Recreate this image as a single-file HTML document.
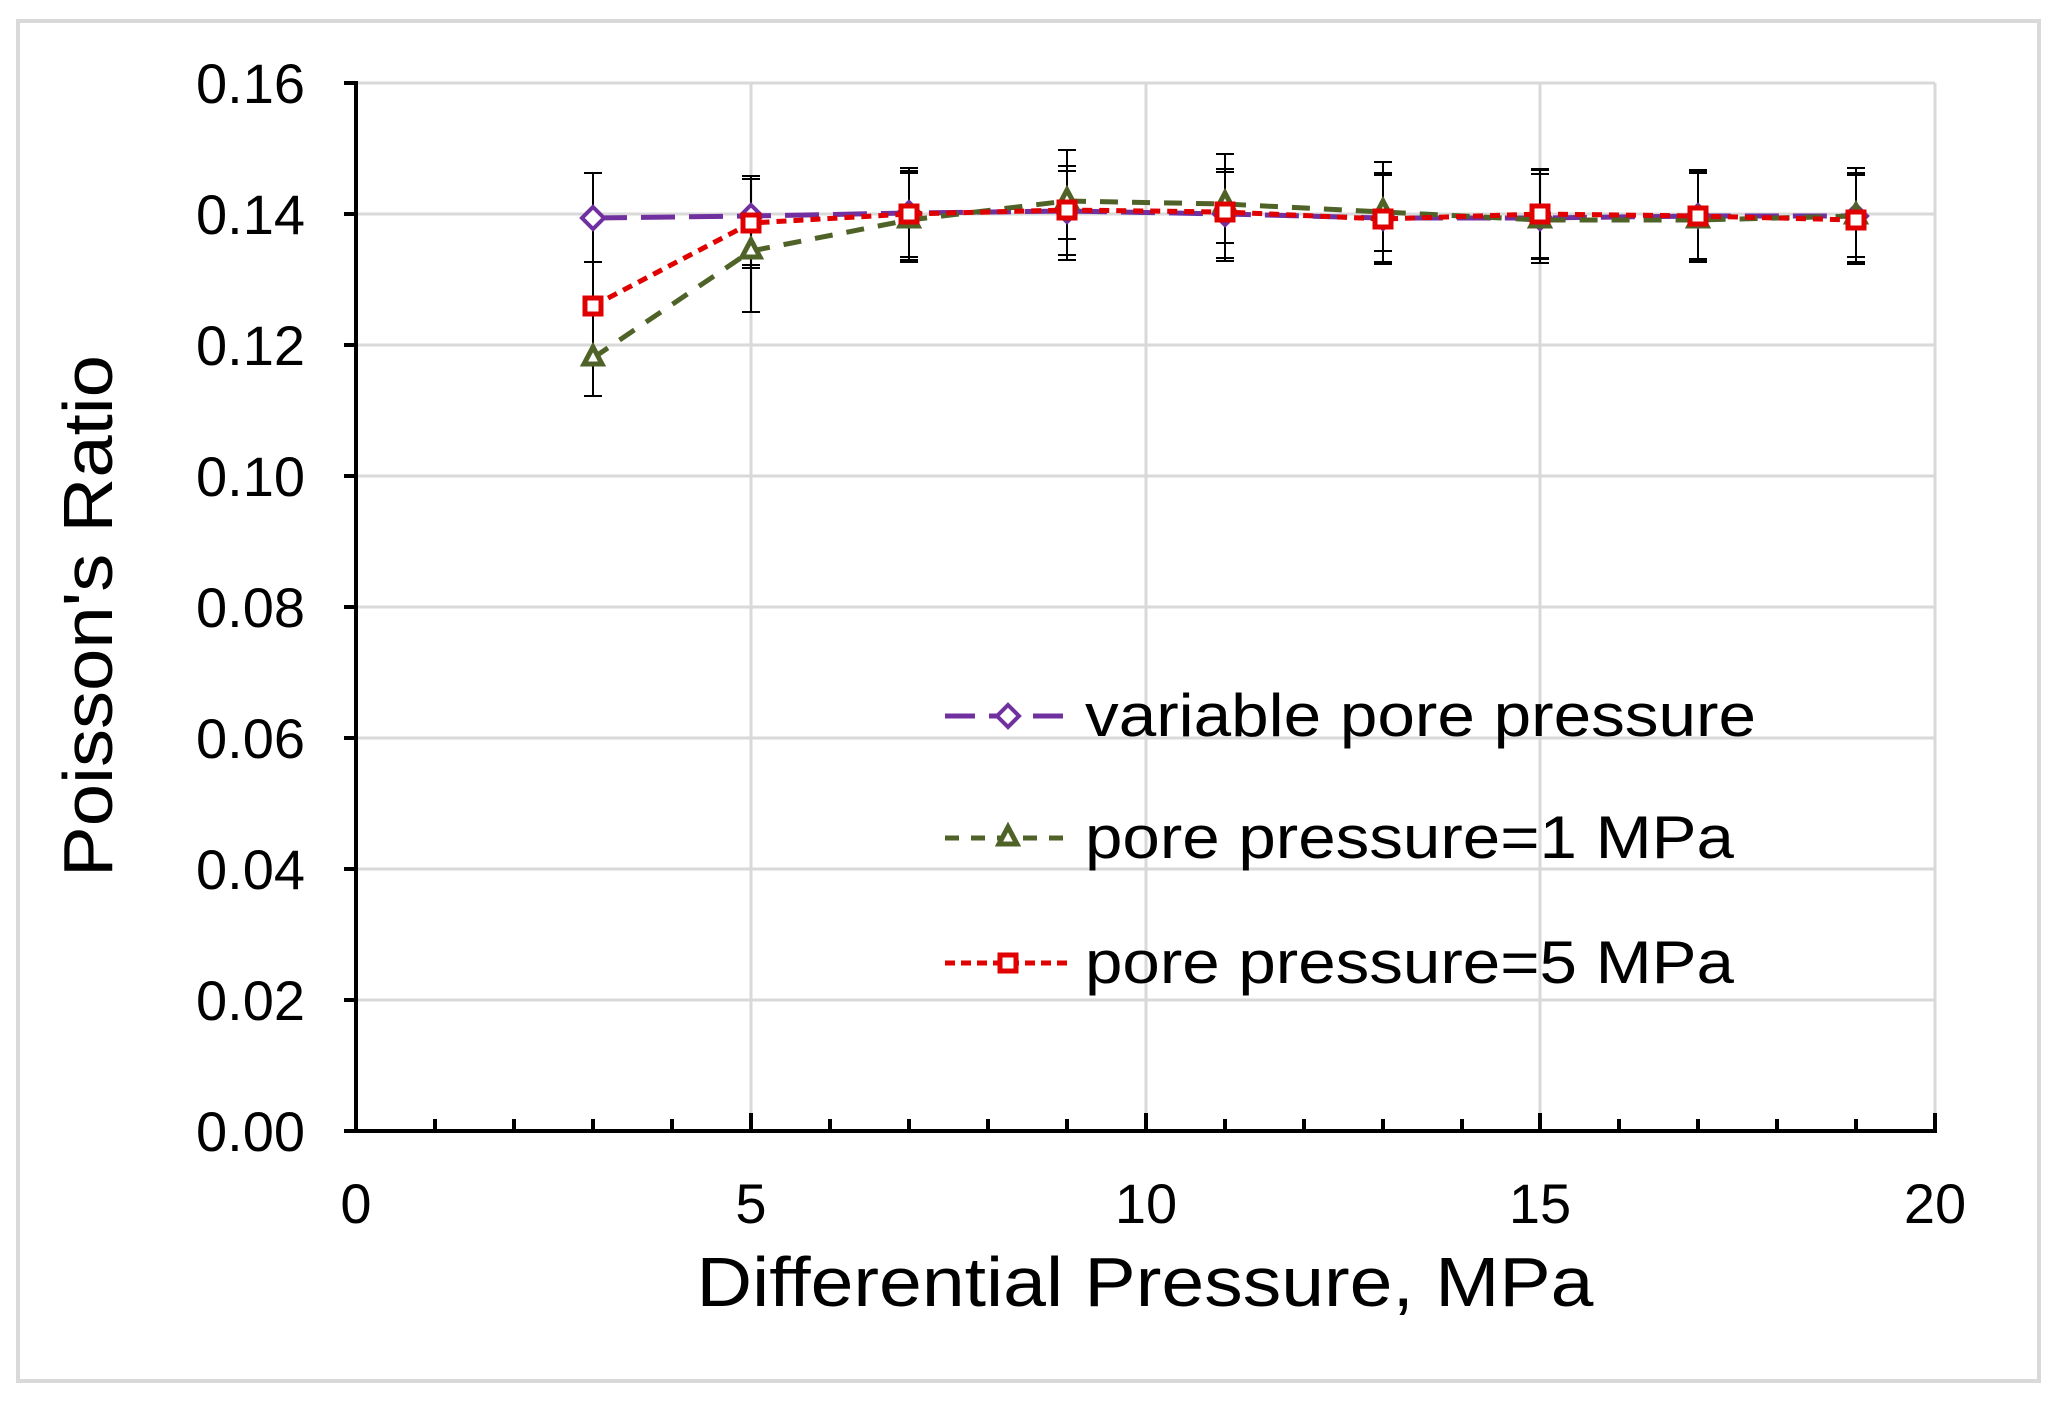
<!DOCTYPE html>
<html><head><meta charset="utf-8"><style>html,body{margin:0;padding:0;background:#fff}svg{display:block}</style></head><body>
<svg width="2059" height="1404" viewBox="0 0 2059 1404" xmlns="http://www.w3.org/2000/svg" font-family="Liberation Sans, Arial, sans-serif">
<rect x="0" y="0" width="2059" height="1404" fill="#fff"/>
<rect x="18" y="21" width="2021" height="1360" fill="none" stroke="#d9d9d9" stroke-width="4"/>
<g stroke="#d9d9d9" stroke-width="3">
<line x1="356" y1="83" x2="1935" y2="83"/><line x1="356" y1="214" x2="1935" y2="214"/><line x1="356" y1="345" x2="1935" y2="345"/><line x1="356" y1="476" x2="1935" y2="476"/><line x1="356" y1="607" x2="1935" y2="607"/><line x1="356" y1="738" x2="1935" y2="738"/><line x1="356" y1="869" x2="1935" y2="869"/><line x1="356" y1="1000" x2="1935" y2="1000"/>
<line x1="751" y1="83" x2="751" y2="1131"/><line x1="1146" y1="83" x2="1146" y2="1131"/><line x1="1540" y1="83" x2="1540" y2="1131"/><line x1="1935" y1="83" x2="1935" y2="1131"/>
</g>
<g stroke="#000" stroke-width="4">
<line x1="356" y1="81" x2="356" y2="1133"/><line x1="354" y1="1131" x2="1937" y2="1131"/>
<line x1="344" y1="83" x2="356" y2="83"/><line x1="344" y1="214" x2="356" y2="214"/><line x1="344" y1="345" x2="356" y2="345"/><line x1="344" y1="476" x2="356" y2="476"/><line x1="344" y1="607" x2="356" y2="607"/><line x1="344" y1="738" x2="356" y2="738"/><line x1="344" y1="869" x2="356" y2="869"/><line x1="344" y1="1000" x2="356" y2="1000"/><line x1="344" y1="1131" x2="356" y2="1131"/>
<path d="M435 1131v-12M514 1131v-12M593 1131v-12M672 1131v-12M751 1131v-18M830 1131v-12M909 1131v-12M988 1131v-12M1067 1131v-12M1146 1131v-18M1225 1131v-12M1304 1131v-12M1383 1131v-12M1462 1131v-12M1540 1131v-18M1619 1131v-12M1698 1131v-12M1777 1131v-12M1856 1131v-12M1935 1131v-18"/>
</g>
<g font-size="56" text-anchor="end" fill="#000">
<text x="305" y="103">0.16</text><text x="305" y="234">0.14</text><text x="305" y="365">0.12</text><text x="305" y="496">0.10</text><text x="305" y="627">0.08</text><text x="305" y="758">0.06</text><text x="305" y="889">0.04</text><text x="305" y="1020">0.02</text><text x="305" y="1151">0.00</text>
</g>
<g font-size="56" text-anchor="middle" fill="#000">
<text x="356" y="1223">0</text><text x="751" y="1223">5</text><text x="1146" y="1223">10</text><text x="1540" y="1223">15</text><text x="1935" y="1223">20</text>
</g>
<text x="1145" y="1306" font-size="70" text-anchor="middle" textLength="897" lengthAdjust="spacingAndGlyphs">Differential Pressure, MPa</text>
<text transform="translate(112,616) rotate(-90)" font-size="70" text-anchor="middle" textLength="522" lengthAdjust="spacingAndGlyphs">Poisson's Ratio</text>
<g stroke="#000" stroke-width="2" fill="none">
<path d="M593 173v89M584 173h18M584 262h18 M751 176v89M742 176h18M742 265h18 M909 173v89M900 173h18M900 262h18 M1067 171v89M1058 171h18M1058 260h18 M1225 172v89M1216 172h18M1216 261h18 M1383 173v89M1374 173h18M1374 262h18 M1540 174v89M1531 174h18M1531 263h18 M1698 173v89M1689 173h18M1689 262h18 M1856 173v89M1847 173h18M1847 262h18"/>
<path d="M751 223v89M742 223h18M742 312h18 M909 168v89M900 168h18M900 257h18 M1067 150v89M1058 150h18M1058 239h18 M1225 154v89M1216 154h18M1216 243h18 M1383 162v89M1374 162h18M1374 251h18 M1540 170v89M1531 170h18M1531 259h18 M1698 170v89M1689 170h18M1689 259h18 M1856 168v89M1847 168h18M1847 257h18"/>
<path d="M593 262v134M584 396h18 M751 179v89M742 179h18M742 268h18 M909 171v89M900 171h18M900 260h18 M1067 166v89M1058 166h18M1058 255h18 M1225 169v89M1216 169h18M1216 258h18 M1383 175v89M1374 175h18M1374 264h18 M1540 169v89M1531 169h18M1531 258h18 M1698 172v89M1689 172h18M1689 261h18 M1856 175v89M1847 175h18M1847 264h18"/>
</g>
<polyline fill="none" stroke="#7030a0" stroke-width="5" stroke-dasharray="34,14" points="593,218 751,216 909,213 1067,211 1225,214 1383,218 1540,218 1698,216 1856,216"/>
<g fill="#fff" stroke="#7030a0" stroke-width="4">
<path d="M593 207l11 11-11 11-11-11z"/><path d="M751 205l11 11-11 11-11-11z"/><path d="M909 202l11 11-11 11-11-11z"/><path d="M1067 200l11 11-11 11-11-11z"/><path d="M1225 203l11 11-11 11-11-11z"/><path d="M1383 207l11 11-11 11-11-11z"/><path d="M1540 207l11 11-11 11-11-11z"/><path d="M1698 205l11 11-11 11-11-11z"/><path d="M1856 205l11 11-11 11-11-11z"/>
</g>
<polyline fill="none" stroke="#4f6228" stroke-width="5" stroke-dasharray="18,14" points="593,358 751,251 909,220 1067,201 1225,204 1383,212 1540,220 1698,220 1856,216"/>
<g fill="#fff" stroke="#4f6228" stroke-width="5">
<path d="M593 347l9 17h-18z"/><path d="M751 240l9 17h-18z"/><path d="M909 209l9 17h-18z"/><path d="M1067 190l9 17h-18z"/><path d="M1225 193l9 17h-18z"/><path d="M1383 201l9 17h-18z"/><path d="M1540 209l9 17h-18z"/><path d="M1698 209l9 17h-18z"/><path d="M1856 205l9 17h-18z"/>
</g>
<polyline fill="none" stroke="#e00000" stroke-width="5" stroke-dasharray="10,7" points="593,306 751,223 909,214 1067,210 1225,212 1383,219 1540,214 1698,216 1856,220"/>
<g fill="#fff" stroke="#e00000" stroke-width="5">
<rect x="585" y="298" width="16" height="16"/><rect x="743" y="215" width="16" height="16"/><rect x="901" y="206" width="16" height="16"/><rect x="1059" y="202" width="16" height="16"/><rect x="1217" y="204" width="16" height="16"/><rect x="1375" y="211" width="16" height="16"/><rect x="1532" y="206" width="16" height="16"/><rect x="1690" y="208" width="16" height="16"/><rect x="1848" y="212" width="16" height="16"/>
</g>
<line x1="945" y1="716" x2="1070" y2="716" stroke="#7030a0" stroke-width="5" stroke-dasharray="30,14"/>
<path d="M1008 705l11 11-11 11-11-11z" fill="#fff" stroke="#7030a0" stroke-width="4"/>
<line x1="945" y1="838" x2="1070" y2="838" stroke="#4f6228" stroke-width="5" stroke-dasharray="14,12"/>
<path d="M1008 827l9 17h-18z" fill="#fff" stroke="#4f6228" stroke-width="5"/>
<line x1="945" y1="963" x2="1070" y2="963" stroke="#e00000" stroke-width="5" stroke-dasharray="10,6"/>
<rect x="1000" y="955" width="16" height="16" fill="#fff" stroke="#e00000" stroke-width="5"/>
<g font-size="60" fill="#000">
<text x="1085" y="736" textLength="671" lengthAdjust="spacingAndGlyphs">variable pore pressure</text>
<text x="1085" y="858" textLength="649" lengthAdjust="spacingAndGlyphs">pore pressure=1 MPa</text>
<text x="1085" y="983" textLength="649" lengthAdjust="spacingAndGlyphs">pore pressure=5 MPa</text>
</g>
</svg>
</body></html>
